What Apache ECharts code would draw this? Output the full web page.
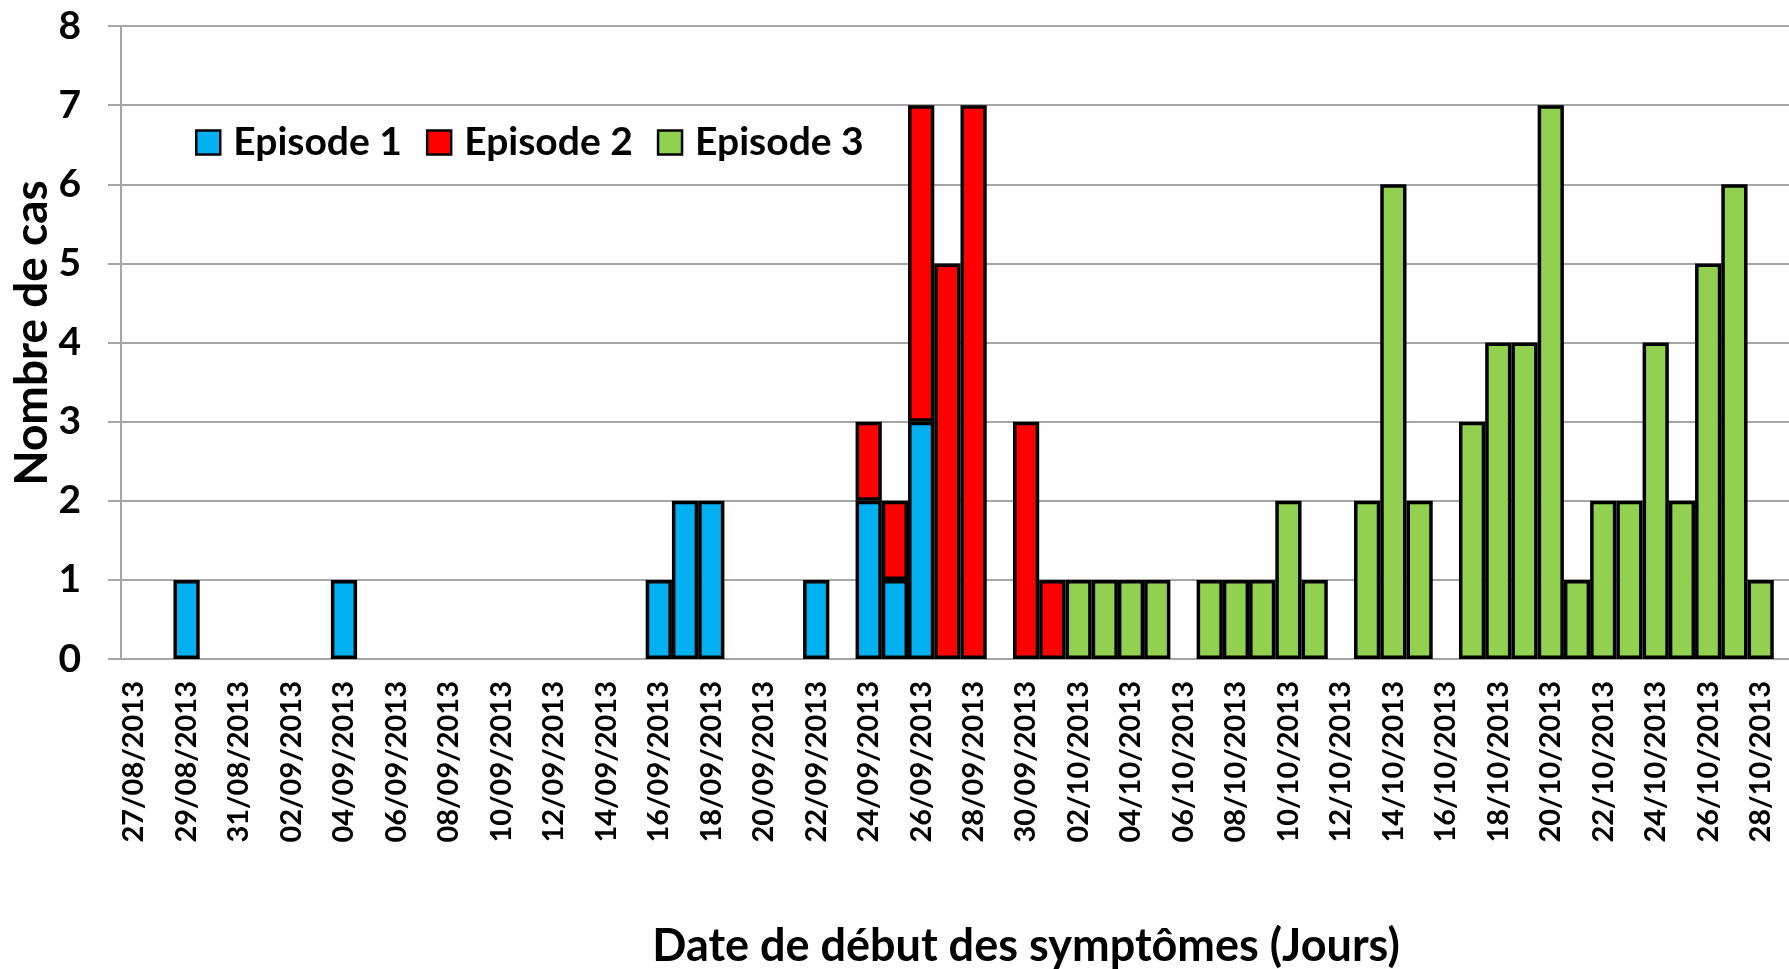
<!DOCTYPE html>
<html>
<head>
<meta charset="utf-8">
<script src="https://cdn.jsdelivr.net/npm/echarts@6/dist/echarts.min.js"></script>
<style>
  html, body { margin: 0; padding: 0; background: #fff; }
  #chart { width: 1789px; height: 969px; }
</style>
</head>
<body>
<div id="chart"></div>
<script>
// one category per day, the last one is cut by the picture edge
var days = [
    '27/08/2013', '28/08/2013', '29/08/2013', '30/08/2013', '31/08/2013',
    '01/09/2013', '02/09/2013', '03/09/2013', '04/09/2013', '05/09/2013',
    '06/09/2013', '07/09/2013', '08/09/2013', '09/09/2013', '10/09/2013',
    '11/09/2013', '12/09/2013', '13/09/2013', '14/09/2013', '15/09/2013',
    '16/09/2013', '17/09/2013', '18/09/2013', '19/09/2013', '20/09/2013',
    '21/09/2013', '22/09/2013', '23/09/2013', '24/09/2013', '25/09/2013',
    '26/09/2013', '27/09/2013', '28/09/2013', '29/09/2013', '30/09/2013',
    '01/10/2013', '02/10/2013', '03/10/2013', '04/10/2013', '05/10/2013',
    '06/10/2013', '07/10/2013', '08/10/2013', '09/10/2013', '10/10/2013',
    '11/10/2013', '12/10/2013', '13/10/2013', '14/10/2013', '15/10/2013',
    '16/10/2013', '17/10/2013', '18/10/2013', '19/10/2013', '20/10/2013',
    '21/10/2013', '22/10/2013', '23/10/2013', '24/10/2013', '25/10/2013',
    '26/10/2013', '27/10/2013', '28/10/2013', '29/10/2013'
];

var seriesNames = ['Episode 1', 'Episode 2', 'Episode 3'];
var seriesColors = ['#00B0F0', '#FF0000', '#92D050'];

// rows of 10 days
var episode1 = [
    '-', '-', 1, '-', '-', '-', '-', '-', 1, '-',
    '-', '-', '-', '-', '-', '-', '-', '-', '-', '-',
    1, 2, 2, '-', '-', '-', 1, '-', 2, 1,
    3, '-', '-', '-', '-', '-', '-', '-', '-', '-',
    '-', '-', '-', '-', '-', '-', '-', '-', '-', '-',
    '-', '-', '-', '-', '-', '-', '-', '-', '-', '-',
    '-', '-', '-', '-'
];
var episode2 = [
    '-', '-', '-', '-', '-', '-', '-', '-', '-', '-',
    '-', '-', '-', '-', '-', '-', '-', '-', '-', '-',
    '-', '-', '-', '-', '-', '-', '-', '-', 1, 1,
    4, 5, 7, '-', 3, 1, '-', '-', '-', '-',
    '-', '-', '-', '-', '-', '-', '-', '-', '-', '-',
    '-', '-', '-', '-', '-', '-', '-', '-', '-', '-',
    '-', '-', '-', '-'
];
var episode3 = [
    '-', '-', '-', '-', '-', '-', '-', '-', '-', '-',
    '-', '-', '-', '-', '-', '-', '-', '-', '-', '-',
    '-', '-', '-', '-', '-', '-', '-', '-', '-', '-',
    '-', '-', '-', '-', '-', '-', 1, 1, 1, 1,
    '-', 1, 1, 1, 2, 1, '-', 2, 6, 2,
    '-', 3, 4, 4, 7, 1, 2, 2, 4, 2,
    5, 6, 1, '-'
];

var yTicks = [0, 8, 1]; // min, max, interval
var xTitle = 'Date de début des symptômes (Jours)';
var yTitle = 'Nombre de cas';

var font = 'Lato';
var gridGray = '#A6A6A6';

var myChart = echarts.init(document.getElementById('chart'));

var seriesList = [];
[episode1, episode2, episode3].forEach(function (values, i) {
    seriesList.push({
        type: 'bar',
        name: seriesNames[i],
        stack: 'cas',
        data: values,
        barCategoryGap: '0%',
        itemStyle: {
            color: seriesColors[i],
            borderColor: '#000',
            borderWidth: 3.5
        },
        emphasis: { disabled: true }
    });
});

var option = {
    animation: false,
    textStyle: { fontFamily: font },
    legend: {
        left: 190,
        top: 118,
        itemWidth: 24,
        itemHeight: 24,
        itemGap: 24,
        icon: 'rect',
        data: seriesNames,
        itemStyle: { borderColor: '#000', borderWidth: 2.5 },
        textStyle: { fontFamily: font, fontSize: 39, fontWeight: 'bold', color: '#000', padding: [0, 0, 0, 8] }
    },
    grid: {
        left: 121,
        top: 26,
        width: 1679,
        height: 633,
        outerBoundsMode: 'none'
    },
    // axis titles sit off-centre in the picture, so place them by hand
    graphic: [
        {
            type: 'text',
            x: 1026,
            y: 946,
            style: {
                text: xTitle,
                fontFamily: font,
                fontSize: 45,
                fontWeight: 'bold',
                fill: '#000',
                align: 'center',
                verticalAlign: 'middle'
            }
        },
        {
            type: 'text',
            x: 32,
            y: 333,
            rotation: Math.PI / 2,
            style: {
                text: yTitle,
                fontFamily: font,
                fontSize: 46,
                fontWeight: 'bold',
                fill: '#000',
                align: 'center',
                verticalAlign: 'middle'
            }
        }
    ],
    xAxis: {
        type: 'category',
        data: days,
        axisLine: { lineStyle: { color: gridGray, width: 2 } },
        axisTick: { interval: 1, length: 10, lineStyle: { color: gridGray, width: 2 } },
        axisLabel: {
            interval: 1,
            rotate: 90,
            margin: 22,
            fontFamily: font,
            fontSize: 29,
            fontWeight: 'bold',
            color: '#000'
        }
    },
    yAxis: {
        type: 'value',
        min: yTicks[0],
        max: yTicks[1],
        interval: yTicks[2],
        axisLine: { show: true, lineStyle: { color: gridGray, width: 2 } },
        axisTick: { show: true, length: 13, lineStyle: { color: gridGray, width: 2 } },
        splitLine: { lineStyle: { color: gridGray, width: 2 } },
        axisLabel: {
            margin: 40,
            fontFamily: font,
            fontSize: 39,
            fontWeight: 'bold',
            color: '#000'
        }
    },
    series: seriesList
};
myChart.setOption(option);
</script>
</body>
</html>
